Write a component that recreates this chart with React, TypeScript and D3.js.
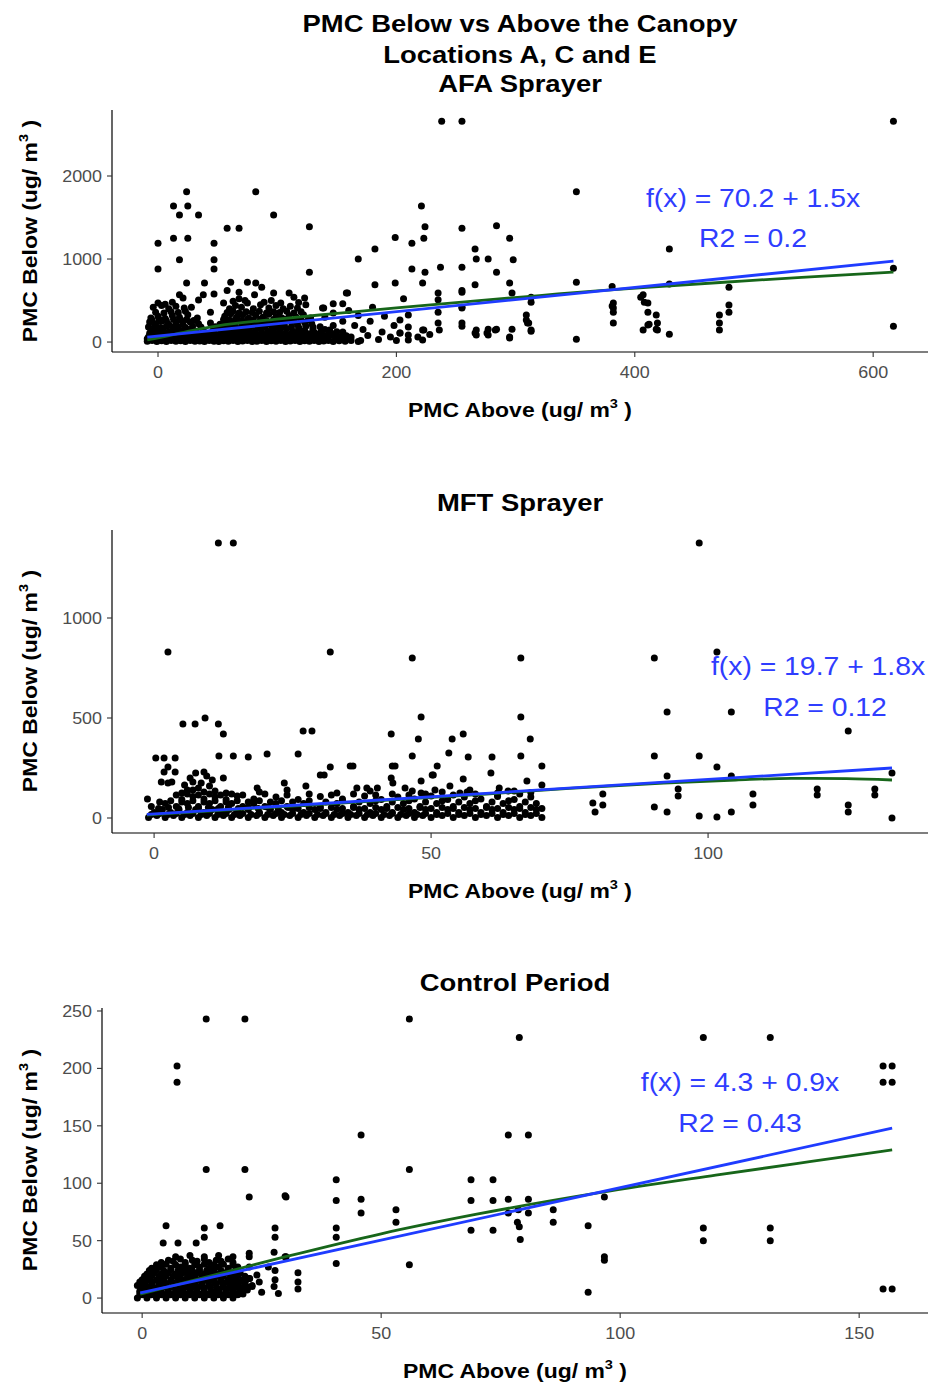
import React from "react";
import * as d3 from "d3";

// ---------------- DATA ----------------
const TITLES: string[][] = [
  ["PMC Below vs Above the Canopy", "Locations A, C and E", "AFA Sprayer"],
  ["MFT Sprayer"],
  ["Control Period"],
];
const EQ_TEXT = ["f(x) = 70.2 + 1.5x", "f(x) = 19.7 + 1.8x", "f(x) = 4.3 + 0.9x"];
const R2_TEXT = ["R2 = 0.2", "R2 = 0.12", "R2 = 0.43"];

const X_TICKS = [[0, 200, 400, 600], [0, 50, 100], [0, 50, 100, 150]];
const Y_TICKS = [[0, 1000, 2000], [0, 500, 1000], [0, 50, 100, 150, 200, 250]];
const X_DOMAINS: [number, number][] = [[-38.6, 646], [-7.6, 139.7], [-8.4, 164.4]];
const Y_DOMAINS: [number, number][] = [[-120, 2795], [-75, 1440], [-13, 252.6]];

// AFA sprayer: [PMC above, PMC below]
const AFA_POINTS: [number, number][] = [
  [0,1190],[0,880],[13,1640],[18,1530],[24,1810],[25,1640],[34,1530],[13,1250],[25,1250],[18,990],[24,710],[39,710],[47,1190],[47,990],[47,880],[58,1370],[68,1370],[82,1810],[97,1530],[127,1390],[127,840],[168,1000],[182,1120],[182,690],[199,1260],[199,710],[213,1190],[213,880],[221,1640],[223,1250],[224,1390],[224,840],[222,710],[238,2660],[255,2660],[255,1370],[237,900],[255,900],[255,600],[139,410],[206,520],
  [351,1810],[284,1400],[295,1250],[266,1120],[267,1000],[277,1000],[298,990],[284,840],[266,690],[295,710],[351,720],[255,620],[235,590],[297,590],[381,670],[235,510],[235,360],[255,410],[313,480],[210,325],[210,180],[210,85],[210,25],[203,265],[203,110],[222,25],[223,145],[235,230],[236,145],[255,230],[255,190],[266,110],[267,145],[276,110],[277,155],[284,155],[295,50],[297,155],[309,325],[309,265],[310,230],[313,130],[351,35],[382,470],[382,410],[382,360],[382,230],[407,570],[408,480],[411,470],[411,360],[418,325],[419,230],[407,145],[411,205],[418,155],[617,2660],[429,1120],[429,700],[479,660],[617,890],[617,190],[313,540],[311,230],[313,145],[295,60],[267,85],[277,85],[283,145],[255,420],[381,435],[405,540],[412,215],[419,145],[429,95],[471,325],[471,230],[471,145],[479,445],[479,360],[222,145],
  [87,660],[75,720],[82,710],[61,720],[58,620],[68,600],[81,570],[18,570],[21,530],[38,570],[47,580],[97,590],[110,590],[114,540],[123,530],[158,590],[28,420],[34,505],[44,360],[55,470],
  [-9,10],[-5,20],[-1,5],[3,15],[7,5],[11,20],[15,8],[19,15],[23,5],[27,18],[31,8],[35,12],[39,5],[43,20],[47,10],[51,5],[55,15],[59,8],[63,20],[67,5],[71,12],[75,18],[79,5],[83,10],[87,20],[91,5],[95,15],[99,8],[103,18],[107,5],[111,12],[115,20],[119,5],[123,15],[127,8],[131,20],[135,5],[139,12],[143,18],[147,5],[152,15],[157,8],[162,20],[168,5],
  [-9,40],[-4,45],[1,35],[5,45],[9,40],[13,35],[17,45],[21,40],[25,35],[29,45],[33,40],[37,35],[41,45],[45,40],[49,35],[53,45],[57,40],[61,35],[65,45],[69,40],[73,35],[77,45],[81,40],[85,35],[89,45],[93,40],[97,35],[101,45],[105,40],[109,35],[113,45],[117,40],[121,35],[125,45],[129,40],[133,35],[137,45],[142,40],[149,35],[155,45],[160,40],
  [-8,60],[-3,80],[2,65],[6,85],[10,60],[14,75],[19,90],[24,65],[29,80],[34,60],[39,85],[44,70],[49,60],[54,90],[59,70],[64,80],[69,60],[74,85],[79,70],[84,60],[89,80],[94,70],[99,90],[104,60],[109,75],[114,85],[119,65],[124,80],[129,60],[134,90],[139,70],[145,80],[151,60],[158,75],
  [-7,105],[-2,100],[3,110],[8,100],[12,105],[17,110],[22,100],[27,105],[32,110],[37,100],[42,105],[47,110],[52,100],[57,105],[62,110],[67,100],[72,105],[77,110],[82,100],[87,105],[92,110],[97,100],[102,105],[107,110],[112,100],[117,105],[122,110],[127,100],[132,105],[137,110],[143,100],[149,105],[155,110],
  [-6,130],[-1,150],[4,140],[9,125],[14,155],[20,135],[26,150],[32,130],[38,145],[46,135],[52,160],[57,130],[62,150],[67,135],[72,155],[77,130],[82,145],[87,160],[92,130],[97,150],[102,140],[108,160],[113,130],[118,150],[123,140],[130,155],[137,130],[144,145],[150,125],
  [-8,180],[-3,185],[2,175],[7,190],[12,180],[17,185],[23,175],[29,190],[36,180],[48,185],[55,175],[60,190],[65,180],[70,185],[75,175],[80,190],[85,180],[90,185],[96,175],[101,190],[106,180],[112,185],[118,175],[124,190],[130,180],[136,185],
  [-7,240],[-2,220],[3,250],[9,215],[15,235],[21,210],[27,240],[34,220],[44,230],[52,215],[57,245],[62,220],[67,250],[72,215],[77,235],[83,220],[88,245],[94,215],[100,235],[106,220],[111,250],[117,215],[123,235],[129,220],
  [-5,265],[1,270],[7,260],[13,275],[19,265],[24,270],[30,260],[55,270],[60,265],[65,275],[70,260],[75,270],[80,265],[86,275],[91,260],[97,270],[102,265],[108,275],[114,260],[120,270],[126,265],
  [-6,290],[0,310],[6,285],[12,320],[18,300],[25,330],[33,290],[56,310],[61,340],[66,300],[71,330],[76,290],[82,320],[88,300],[93,335],[99,305],[104,290],[110,320],[116,300],[122,330],[128,290],
  [-2,360],[5,350],[11,365],[17,355],[23,370],[58,355],[63,370],[68,350],[74,365],[79,355],[85,370],[91,350],[97,365],[102,355],[108,370],[114,350],[120,365],
  [-4,420],[3,440],[9,400],[15,430],[22,410],[60,400],[65,440],[70,420],[75,470],[80,400],[86,450],[93,410],[99,440],[105,400],[111,430],[117,410],[124,450],
  [0,470],[6,455],[12,480],[63,490],[68,520],[73,500],[89,480],[95,500],[103,470],[118,475],
  [138,410],[140,300],[140,150],[140,60],[147,460],[147,350],[147,200],[147,90],[152,30],[155,460],[155,250],[155,120],[159,590],[160,380],[162,60],[165,200],[168,320],[170,20],[172,150],[176,80],[178,250],[180,420],[185,30],[188,120],[190,310],[195,60],[198,200],[200,20],[203,110],[218,60],[228,90],
];

// MFT sprayer
const MFT_POINTS: [number, number][] = [
  [11.6,1375],[14.3,1375],[98.4,1375],[2.5,830],[31.8,830],[46.6,800],[66.2,800],[90.3,800],[101.6,830],[48.2,505],[66.2,505],[92.6,530],[104.2,530],[125.3,435],[5.2,470],[7.4,470],[9.2,500],[11.6,470],[12.5,420],[26.9,435],[28.5,435],[42.8,420],[47.7,395],[53.8,395],[55.8,420],[67.9,395],
  [0.3,300],[1.8,300],[3.8,300],[11.7,310],[14.3,310],[17,305],[20.4,320],[26,320],[46.6,310],[53.2,325],[56.7,305],[61,305],[66.2,310],[90.3,310],[98.4,310],
  [2.5,255],[1.8,230],[3.8,230],[1.3,180],[2.5,175],[3.2,180],[-1.2,95],[12.5,200],[18.6,150],[23.5,175],[27.4,160],[30,215],[30.7,215],[31.8,255],[35.4,260],[35.9,260],[36.6,150],[38.4,150],[40.3,150],[43,260],[43.5,260],[42.8,200],[43.1,175],[45.3,150],[46.6,135],[48.2,185],[48.2,125],[50.4,215],[51.1,260],[50.2,215],[70,260],[60.8,225],[55.8,195],[67.3,185],[53.4,160],[70,165],[62.3,150],[50.7,140],[56.5,130],[55.2,125],[63.9,135],[79.2,75],[79.6,30],[101.6,255],[92.6,210],[104.2,210],[133.2,225],[81,120],[81,65],[94.6,145],[94.6,110],[90.3,55],[92.6,30],[98.4,10],[101.6,5],[104.2,30],[108.1,120],[108.1,65],[119.7,145],[119.7,115],[125.3,65],[125.3,30],[130.1,145],[130.1,115],[133.2,0],
  [5.5,165],[6.5,200],[7.5,225],[8.5,175],[9.5,210],[10,160],[6,140],[8,150],[9,230],[10.5,190],[7,180],
  [-1,3],[0.5,12],[2,3],[3.5,12],[5,3],[6.5,12],[8,3],[9.5,12],[11,3],[12.5,12],[14,3],[15.5,12],[17,3],[18.5,12],[20,3],[21.5,12],[23,3],[24.5,12],[26,3],[27.5,12],[29,3],[30.5,12],[32,3],[33.5,12],[35,3],[36.5,12],[38,3],[39.5,12],[41,3],[42.5,12],[44,3],[45.5,12],[47,3],[48.5,12],[50,3],[52,12],[54,3],[56,12],[58,3],[60,12],[62,3],[64,12],[66,3],[68,12],[70,3],
  [-0.5,18],[1,22],[2.5,18],[4,22],[5.5,18],[7,22],[8.5,18],[10,22],[11.5,18],[13,22],[14.5,18],[16,22],[17.5,18],[19,22],[20.5,18],[22,22],[23.5,18],[25,22],[26.5,18],[28,22],[29.5,18],[31,22],[32.5,18],[34,22],[35.5,18],[37,22],[38.5,18],[40,22],[41.5,18],[43,22],[44.5,18],[46,22],[47.5,18],[49,22],[51,18],[53,22],[55,18],[57,22],[59,18],[61,22],[63,18],[65,22],[67,18],[69,22],
  [0,28],[1.5,42],[3,28],[4.5,42],[6,28],[7.5,42],[9,28],[10.5,42],[12,28],[13.5,42],[15,28],[17,42],[19,28],[21,42],[23,28],[25,42],[27,28],[29,42],[31,28],[33,42],[35,28],[37,42],[39,28],[41,42],[43,28],[45,42],[47,28],[49,42],[51,28],[53,42],[55,28],[57,42],[59,28],[61,42],[63,28],[65,42],[67,28],[69,42],
  [0.8,48],[2.6,52],[4.4,48],[6.2,52],[8,48],[9.8,52],[11.6,48],[13.4,52],[15.2,48],[17,52],[18.8,48],[20.6,52],[22.4,48],[24.2,52],[26,48],[28,52],[30,48],[32,52],[34,48],[36,52],[38,48],[40,52],[42,48],[44,52],[46,48],[48,52],[50,48],[52,52],[54,48],[56,52],[58,48],[60,52],[62,48],[64,52],[66,48],[68,52],[70,48],
  [-0.5,58],[2,72],[4,58],[6,72],[8,58],[10,72],[12,58],[14,72],[16,58],[18,72],[20,58],[22,72],[24,58],[27,72],[30,58],[33,72],[36,58],[39,72],[42,58],[45,72],[48,58],[51,72],[54,58],[57,72],[60,58],[63,72],[66,58],[69,72],
  [1,80],[3,86],[5,80],[7,86],[9,80],[11,86],[13,80],[15,86],[17,80],[19,86],[21,80],[23,86],[25,80],[28,86],[31,80],[34,86],[37,80],[40,86],[43,80],[46,86],[49,80],[52,86],[55,80],[58,86],[61,80],[64,86],[67,80],
  [5,92],[7,108],[9,95],[11,105],[13,92],[15,110],[18,95],[22,105],[26,92],[30,108],[34,95],[38,110],[41,92],[44,105],[47,95],[50,110],[53,92],[56,105],[59,95],[62,108],[65,92],[68,105],
  [4,115],[6,120],[8,115],[10,120],[12,115],[14,120],[16,115],[20,120],[24,115],[28,120],[32,115],[36,120],[40,115],[43,120],[46,115],[49,120],[54,115],[58,120],[62,115],[66,120],
  [5,125],[7,140],[9,130],[11,135],[13,125],[19,130],[24,140],[33,125],[39,135],[52,130],[57,140],[62,125],[65,135],[68,128],
];

// Control period
const CONTROL_POINTS: [number, number][] = [
  [13.4,243],[21.5,243],[55.9,243],[7.3,202],[7.3,188],[45.8,142],[13.4,112],[21.5,112],[55.9,112],[40.6,103],[22.4,88],[30.1,88],[40.6,85],[45.8,86],[45.8,74],[53.1,77],[53.1,66],[40.6,61],[40.6,53],[40.6,30],[55.9,29],[68.8,103],[68.8,85],[68.8,59],[5,63],[16.3,63],[4.4,48],[7.5,48],[11.3,48],[13,61],[13,53],[27.8,61],[27.8,53],[32.6,22],[32.6,14],[32.6,8],[28.5,4],[22.4,36],[22.4,27],[22.4,17],[26.4,27],[27.8,24],[27.8,16],[30.1,36],[20.9,4],
  [78.9,227],[117.4,227],[131.4,227],[155,202],[156.9,202],[155,188],[156.9,188],[155,8],[156.9,8],[76.6,142],[80.8,142],[73.4,103],[73.4,85],[76.6,86],[80.8,86],[76.6,74],[80.8,74],[78.7,77],[73.4,59],[78.5,66],[78.9,62],[79.1,51],[86,77],[86,66],[93.3,63],[96.7,88],[96.7,36],[96.7,33],[93.3,5],[117.4,61],[117.4,50],[131.4,61],[131.4,50],[29.9,89],[3.1,28],[27.6,40],[27.6,10],[22.4,39],[29.9,36],
  [-1,0],[0,3],[1,0],[2,3],[3,0],[4,3],[5,0],[6,3],[7,0],[8,3],[9,0],[10,3],[11,0],[12,3],[13,0],[14,3],[15,0],[16,3],[17,0],[18,3],[19,0],[20,3],
  [-0.5,3.5],[0.7,4],[1.9,3.5],[3.1,4],[4.3,3.5],[5.5,4],[6.7,3.5],[7.9,4],[9.1,3.5],[10.3,4],[11.5,3.5],[12.7,4],[13.9,3.5],[15.1,4],[16.3,3.5],[17.5,4],[18.7,3.5],[19.9,4],[21.1,3.5],
  [-0.5,6],[1,7],[2.5,6],[4,7],[5.5,6],[7,7],[8.5,6],[10,7],[11.5,6],[13,7],[14.5,6],[16,7],[17.5,6],[19,7],[20.5,6],[22,7],
  [0,9],[1.3,9.5],[2.6,9],[3.9,9.5],[5.2,9],[6.5,9.5],[7.8,9],[9.1,9.5],[10.4,9],[11.7,9.5],[13,9],[14.3,9.5],[15.6,9],[16.9,9.5],[18.2,9],[19.5,9.5],[20.8,9],[22.1,9.5],
  [-1,11],[0.5,12],[2,11],[3.5,12],[5,11],[6.5,12],[8,11],[9.5,12],[11,11],[12.5,12],[14,11],[15.5,12],[17,11],[18.5,12],[20,11],[21.5,12],[23,11],
  [-0.5,14],[0.8,14.5],[2.1,14],[3.4,14.5],[4.7,14],[6,14.5],[7.3,14],[8.6,14.5],[9.9,14],[11.2,14.5],[12.5,14],[13.8,14.5],[15.1,14],[16.4,14.5],[17.7,14],[19,14.5],[20.3,14],[21.6,14.5],
  [0,16],[1.5,17],[3,16],[4.5,17],[6,16],[7.5,17],[9,16],[10.5,17],[12,16],[13.5,17],[15,16],[16.5,17],[18,16],[19.5,17],[21,16],[22.5,17],
  [0.5,19],[2,19.5],[3.5,19],[5,19.5],[6.5,19],[8,19.5],[9.5,19],[11,19.5],[12.5,19],[14,19.5],[15.5,19],[17,19.5],[18.5,19],[20,19.5],[21.5,19],
  [1,21],[2.5,22],[4,21],[5.5,22],[7,21],[8.5,22],[10,21],[11.5,22],[13,21],[14.5,22],[16,21],[17.5,22],[19,21],[20.5,22],
  [1.5,24],[3,24.5],[4.5,24],[6,24.5],[7.5,24],[9,24.5],[10.5,24],[12,24.5],[13.5,24],[15,24.5],[16.5,24],[18,24.5],[19.5,24],
  [2,26],[4,27],[6,26],[8,27],[10,26],[12,27],[14,26],[16,27],[18,26],[20,27],
  [3,29],[5,29.5],[7,29],[9,29.5],[11,29],[13,29.5],[15,29],[17,29.5],[19,29],
  [4,31],[6.5,32],[9,31],[11.5,32],[14,31],[16.5,32],[19,31],
  [5.5,33],[8,34],[10.5,33],[13,34],[15.5,33],[18,34],
  [7,36],[10,37],[13,36],[16,37],[19,36],
  [23,10],[24,20],[25,5],[24.5,14],
];

// fitted lines
const LINEAR_FITS: [number, number][][] = [
  [[-9, 60], [617, 975]],
  [[-1.3, 18], [133.2, 250]],
  [[-0.4, 4.5], [156.9, 148]],
];
const SMOOTH_FITS: [number, number][][] = [
  [[-9,25],[10,80],[25,130],[50,196],[100,277],[150,345],[200,412],[262,490],[320,560],[371,620],[420,668],[478,723],[540,780],[617,843]],
  [[-1.3,15],[10,35],[28,65],[46,96],[60,120],[75,148],[92,175],[105,190],[115,198],[125,197],[133.2,190]],
  [[-0.4,3.5],[15,20],[30,36],[50,56],[70,73],[96,92],[120,107],[140,119],[156.9,129]],
];

const POINT_SETS = [AFA_POINTS, MFT_POINTS, CONTROL_POINTS];

// ---------------- LAYOUT ----------------
const W = 930, H = 1385;
const FONT = "'Liberation Sans', Arial, Helvetica, sans-serif";
const SX = 1.12;
const BLUE = "#1f3cff";
const GREEN = "#17661a";
const TEXTBLUE = "#2f3dff";

const LAYOUT = [
  { left: 112, right: 928, top: 110, bottom: 352, titleY: [32, 63, 92], annX: [753, 753], annY: [207, 247], yLabY: 231 },
  { left: 112, right: 928, top: 530, bottom: 833, titleY: [511], annX: [818, 825], annY: [675, 716], yLabY: 681 },
  { left: 102, right: 928, top: 1008, bottom: 1313, titleY: [991], annX: [740, 740], annY: [1091, 1132], yLabY: 1160 },
];

function T(props: { x: number; y: number; size: number; bold?: boolean; fill?: string; anchor?: string; rotate?: number; children: React.ReactNode }) {
  const { x, y, size, bold, fill, anchor, rotate, children } = props;
  return (
    <text
      transform={`translate(${x},${y})${rotate ? ` rotate(${rotate})` : ""} scale(${SX},1)`}
      fontSize={size}
      fontWeight={bold ? "bold" : "normal"}
      fill={fill || "#000"}
      textAnchor={anchor || "start"}
      fontFamily={FONT}
    >
      {children}
    </text>
  );
}

function Panel({ i }: { i: number }) {
  const L = LAYOUT[i];
  const x = d3.scaleLinear().domain(X_DOMAINS[i]).range([L.left, L.right]);
  const y = d3.scaleLinear().domain(Y_DOMAINS[i]).range([L.bottom, L.top]);
  const cx = (L.left + L.right) / 2;
  const straight = d3.line<[number, number]>().x((d) => x(d[0])).y((d) => y(d[1]));
  const smooth = d3
    .line<[number, number]>()
    .x((d) => x(d[0]))
    .y((d) => y(d[1]))
    .curve(d3.curveMonotoneX);
  return (
    <g>
      {TITLES[i].map((t, k) => (
        <T key={k} x={cx} y={L.titleY[k]} size={24.5} bold anchor="middle">
          {t}
        </T>
      ))}
      {POINT_SETS[i].map((d, k) => (
        <circle key={k} cx={x(d[0])} cy={y(d[1])} r={3.5} fill="#000" />
      ))}
      <path d={smooth(SMOOTH_FITS[i]) || ""} fill="none" stroke={GREEN} strokeWidth={2.8} />
      <path d={straight(LINEAR_FITS[i]) || ""} fill="none" stroke={BLUE} strokeWidth={2.8} />
      <line x1={L.left} x2={L.right} y1={L.bottom} y2={L.bottom} stroke="#000" strokeWidth={1.2} />
      <line x1={L.left} x2={L.left} y1={L.top} y2={L.bottom} stroke="#000" strokeWidth={1.2} />
      {X_TICKS[i].map((t) => (
        <g key={"x" + t}>
          <line x1={x(t)} x2={x(t)} y1={L.bottom} y2={L.bottom + 5} stroke="#333" strokeWidth={1.1} />
          <T x={x(t)} y={L.bottom + 25.5} size={16} fill="#4d4d4d" anchor="middle">
            {String(t)}
          </T>
        </g>
      ))}
      {Y_TICKS[i].map((t) => (
        <g key={"y" + t}>
          <line x1={L.left - 5} x2={L.left} y1={y(t)} y2={y(t)} stroke="#333" strokeWidth={1.1} />
          <T x={L.left - 10} y={y(t) + 6} size={16} fill="#4d4d4d" anchor="end">
            {String(t)}
          </T>
        </g>
      ))}
      <T x={cx} y={L.bottom + 65} size={20.5} bold anchor="middle">
        PMC Above (ug/ m<tspan dy={-9} fontSize={13}>3</tspan>
        <tspan dy={9}> )</tspan>
      </T>
      <T x={37} y={L.yLabY} size={20.5} bold anchor="middle" rotate={-90}>
        PMC Below (ug/ m<tspan dy={-9} fontSize={13}>3</tspan>
        <tspan dy={9}> )</tspan>
      </T>
      <T x={L.annX[0]} y={L.annY[0]} size={25.3} fill={TEXTBLUE} anchor="middle">
        {EQ_TEXT[i]}
      </T>
      <T x={L.annX[1]} y={L.annY[1]} size={25.3} fill={TEXTBLUE} anchor="middle">
        {R2_TEXT[i]}
      </T>
    </g>
  );
}

export default function App() {
  return (
    <svg
      width={W}
      height={H}
      viewBox={`0 0 ${W} ${H}`}
      style={{ position: "absolute", left: 0, top: 0, background: "#fff" }}
    >
      <rect x={0} y={0} width={W} height={H} fill="#fff" />
      {[0, 1, 2].map((i) => (
        <Panel key={i} i={i} />
      ))}
    </svg>
  );
}
